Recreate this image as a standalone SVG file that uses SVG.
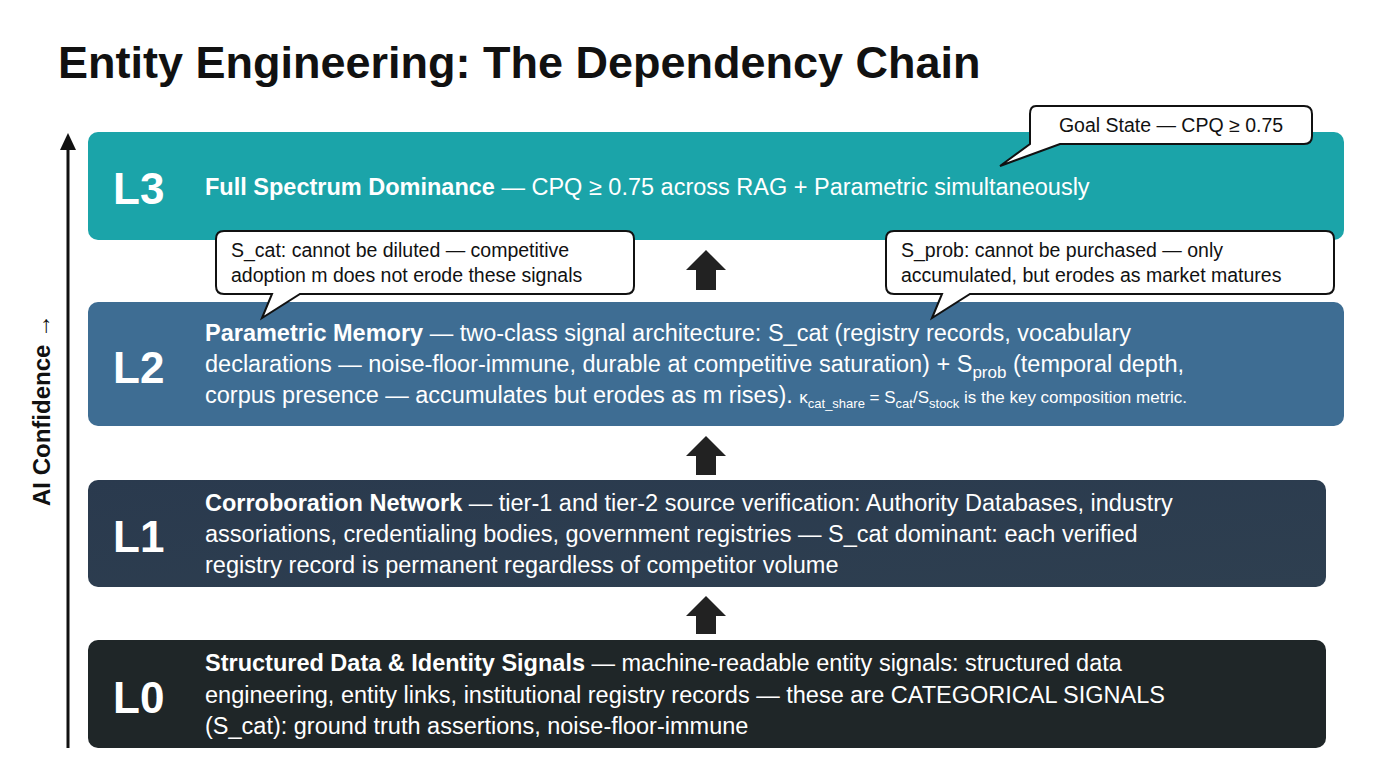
<svg xmlns="http://www.w3.org/2000/svg" width="1376" height="768" viewBox="0 0 1376 768">
<style>
.t{font-family:"Liberation Sans",Arial,sans-serif;fill:#fff;font-size:23.5px}
.b{font-weight:bold}
.lv{font-family:"Liberation Sans",Arial,sans-serif;fill:#fff;font-size:44px;font-weight:bold}
.c{font-family:"Liberation Sans",Arial,sans-serif;fill:#111;font-size:19.5px}
.call{fill:#fff;stroke:#111;stroke-width:2}
.up{fill:#222}
</style>
<defs>
<linearGradient id="g1" x1="0" y1="0" x2="1" y2="1"><stop offset="0" stop-color="#2a3a4e"/><stop offset="1" stop-color="#2e3f50"/></linearGradient>
<marker id="ah" markerWidth="10" markerHeight="10" refX="5" refY="5" orient="auto"><path d="M0,0 L10,5 L0,10 z" fill="#111"/></marker>
</defs>
<rect width="1376" height="768" fill="#fff"/>
<text x="58" y="78" font-family="Liberation Sans,Arial,sans-serif" font-size="45" font-weight="bold" fill="#111">Entity Engineering: The Dependency Chain</text>
<g id="axis">
<line x1="68" y1="748" x2="68" y2="146" stroke="#111" stroke-width="3"/>
<path d="M60,150 L68,133 L76,150 z" fill="#111"/>
<text transform="translate(50,410) rotate(-90)" text-anchor="middle" font-family="Liberation Sans,Arial,sans-serif" font-size="24" font-weight="bold" fill="#111">AI Confidence →</text>
</g>
<g id="L3">
<rect x="88" y="132" width="1256" height="108" rx="10" fill="#1ba4a9"/>
<text class="lv" x="113" y="204">L3</text>
<text class="t" x="205" y="195"><tspan class="b">Full Spectrum Dominance</tspan> — CPQ ≥ 0.75 across RAG + Parametric simultaneously</text>
</g>
<g id="L2">
<rect x="88" y="302" width="1256" height="124" rx="10" fill="#3e6d93"/>
<text class="lv" x="113" y="383">L2</text>
<text class="t" x="205" y="341"><tspan class="b">Parametric Memory</tspan> — two-class signal architecture: S_cat (registry records, vocabulary</text>
<text class="t" x="205" y="372">declarations — noise-floor-immune, durable at competitive saturation) + S<tspan font-size="17" dy="6">prob</tspan><tspan dy="-6"> (temporal depth,</tspan></text>
<text class="t" x="205" y="403">corpus presence — accumulates but erodes as m rises). <tspan font-size="17">κ<tspan font-size="13" dy="5">cat_share</tspan><tspan dy="-5"> = S</tspan><tspan font-size="13" dy="5">cat</tspan><tspan dy="-5">/S</tspan><tspan font-size="13" dy="5">stock</tspan><tspan dy="-5"> is the key composition metric.</tspan></tspan></text>
</g>
<g id="L1">
<rect x="88" y="480" width="1238" height="107" rx="10" fill="url(#g1)"/>
<text class="lv" x="113" y="552">L1</text>
<text class="t" x="205" y="511"><tspan class="b">Corroboration Network</tspan> — tier-1 and tier-2 source verification: Authority Databases, industry</text>
<text class="t" x="205" y="542">assoriations, credentialing bodies, government registries — S_cat dominant: each verified</text>
<text class="t" x="205" y="573">registry record is permanent regardless of competitor volume</text>
</g>
<g id="L0">
<rect x="88" y="640" width="1238" height="108" rx="10" fill="#1f2628"/>
<text class="lv" x="113" y="713">L0</text>
<text class="t" x="205" y="671"><tspan class="b">Structured Data &amp; Identity Signals</tspan> — machine-readable entity signals: structured data</text>
<text class="t" x="205" y="703">engineering, entity links, institutional registry records — these are CATEGORICAL SIGNALS</text>
<text class="t" x="205" y="734">(S_cat): ground truth assertions, noise-floor-immune</text>
</g>
<g id="connectors">
<path class="up" d="M706,250 L726,270 L716,270 L716,290 L696,290 L696,270 L686,270 z"/>
<path class="up" d="M706,436 L726,456 L716,456 L716,475 L696,475 L696,456 L686,456 z"/>
<path class="up" d="M706,596 L726,616 L716,616 L716,634 L696,634 L696,616 L686,616 z"/>
</g>
<g id="goal">
<path class="call" d="M1036,106 H1304 Q1312,106 1312,114 V136 Q1312,144 1304,144 H1060 L1000,166 L1030,144 Q1030,144 1030,136 V114 Q1030,106 1036,106 z"/>
<text class="c" x="1171" y="132" text-anchor="middle">Goal State — CPQ ≥ 0.75</text>
</g>
<g id="scat">
<path class="call" d="M224,231 H626 Q634,231 634,239 V286 Q634,294 626,294 H300 L262,318 L272,294 H224 Q216,294 216,286 V239 Q216,231 224,231 z"/>
<text class="c" x="231" y="257">S_cat: cannot be diluted — competitive</text>
<text class="c" x="231" y="282">adoption m does not erode these signals</text>
</g>
<g id="sprob">
<path class="call" d="M894,231 H1326 Q1334,231 1334,239 V286 Q1334,294 1326,294 H970 L932,318 L942,294 H894 Q886,294 886,286 V239 Q886,231 894,231 z"/>
<text class="c" x="901" y="257">S_prob: cannot be purchased — only</text>
<text class="c" x="901" y="282">accumulated, but erodes as market matures</text>
</g>
</svg>
